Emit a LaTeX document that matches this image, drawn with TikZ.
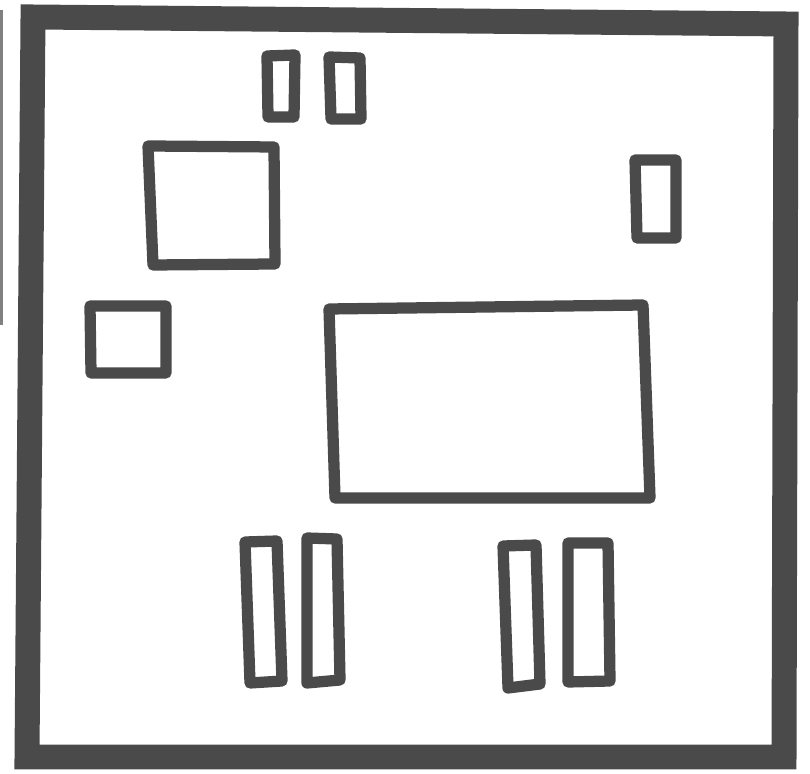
\documentclass[tikz,border=0pt]{standalone}
\usepackage{tikz}
\definecolor{marker}{RGB}{74,74,74}

\begin{document}
\begin{tikzpicture}[x=0.01cm,y=-0.01cm]
			\tikzstyle{frame}=[draw=marker, line width=7.1pt, line join=miter]
			\tikzstyle{part}=[draw=marker, line width=3.2pt, line join=round]
			\useasboundingbox (0,0) rectangle (810,774);
			% stray mark at the left edge
			\draw [marker!70, line width=0.9pt] (1.5,10) -- (1.5,325);
			% outer frame
			\draw [frame] (33,17) -- (786,24) -- (784,757) -- (27,757) -- cycle;
			% top pair
			\draw [part] (267,56) -- (295,55) -- (294,117) -- (268,117) -- cycle;
			\draw [part] (329,57) -- (360,58) -- (361,119) -- (331,119) -- cycle;
			% square
			\draw [part] (148,146) -- (274,147) -- (275,264) -- (153,265) -- cycle;
			% right small part
			\draw [part] (635,160) -- (676,160) -- (676,238) -- (637,238) -- cycle;
			% left small square
			\draw [part] (90,306) -- (166,306) -- (166,373) -- (91,373) -- cycle;
			% big block
			\draw [part] (329,309) -- (643,305) -- (650,498) -- (335,498) -- cycle;
			% bottom bars
			\draw [part] (245,542) -- (277,541) -- (282,681) -- (250,683) -- cycle;
			\draw [part] (307,538) -- (337,539) -- (340,680) -- (307,683) -- cycle;
			\draw [part] (503,546) -- (536,545) -- (540,684) -- (508,688) -- cycle;
			\draw [part] (568,543) -- (608,543) -- (610,681) -- (568,682) -- cycle;
		\end{tikzpicture}
\end{document}
